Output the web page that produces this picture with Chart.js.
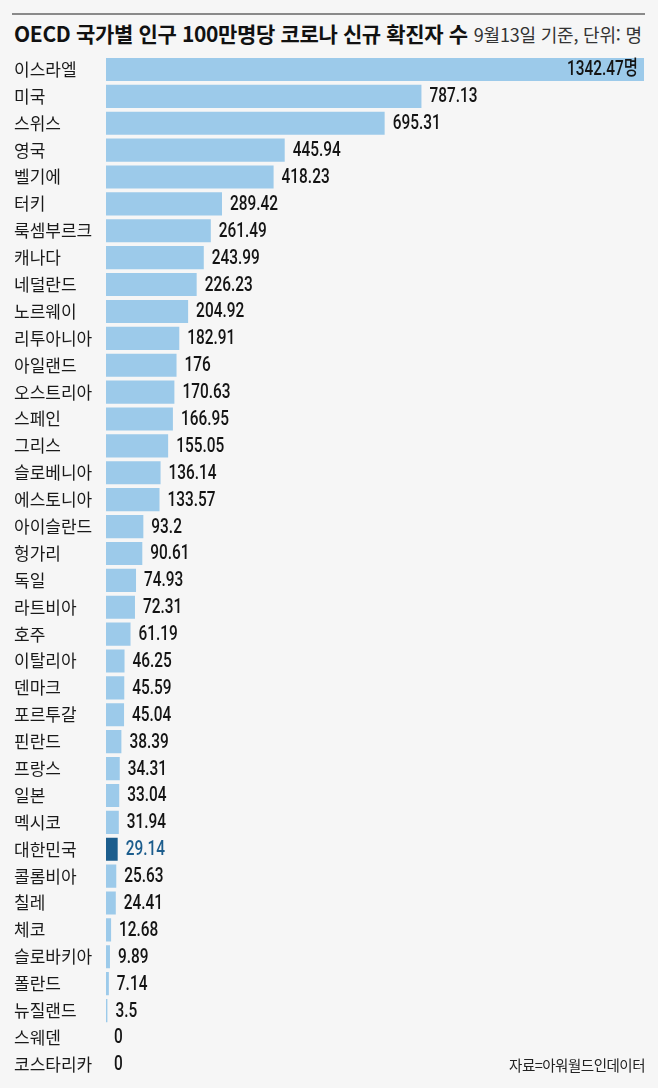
<!DOCTYPE html>
<html lang="ko">
<head>
<meta charset="utf-8">
<script src="https://cdn.jsdelivr.net/npm/chart.js@4/dist/chart.umd.min.js"></script>
<style>
  html, body { margin: 0; padding: 0; background: #f6f6f6; }
  #wrap { position: relative; width: 658px; height: 1088px; overflow: hidden; background: #f6f6f6; }
  #topline { position: absolute; left: 12px; top: 13px; width: 633px; height: 2px; background: #8a8a8a; }
  #title { position: absolute; left: 14px; top: 18px; white-space: nowrap; font-family: "Noto Sans CJK KR", sans-serif; color: #111; line-height: 30px; }
  #title .main { font-size: 21px; font-weight: 700; letter-spacing: -0.35px; }
  #title .sub { font-size: 18px; font-weight: 400; color: #333; letter-spacing: -0.2px; margin-left: 6px; }
  #source { position: absolute; right: 13px; top: 1054px; font-family: "Noto Sans CJK KR", sans-serif; font-size: 14.5px; color: #222; letter-spacing: -0.5px; }
  canvas { position: absolute; left: 0; top: 0; }
</style>
</head>
<body>
<div id="wrap">
  <div id="topline"></div>
  <div id="title"><span class="main">OECD 국가별 인구 100만명당 코로나 신규 확진자 수</span><span class="sub">9월13일 기준, 단위: 명</span></div>
  <canvas id="c" width="658" height="1088"></canvas>
  <div id="source">자료=아워월드인데이터</div>
</div>
<script>
const countries = ["이스라엘","미국","스위스","영국","벨기에","터키","룩셈부르크","캐나다","네덜란드","노르웨이","리투아니아","아일랜드","오스트리아","스페인","그리스","슬로베니아","에스토니아","아이슬란드","헝가리","독일","라트비아","호주","이탈리아","덴마크","포르투갈","핀란드","프랑스","일본","멕시코","대한민국","콜롬비아","칠레","체코","슬로바키아","폴란드","뉴질랜드","스웨덴","코스타리카"];
const cases = [1342.47,787.13,695.31,445.94,418.23,289.42,261.49,243.99,226.23,204.92,182.91,176,170.63,166.95,155.05,136.14,133.57,93.2,90.61,74.93,72.31,61.19,46.25,45.59,45.04,38.39,34.31,33.04,31.94,29.14,25.63,24.41,12.68,9.89,7.14,3.5,0,0];
const highlight = "대한민국";
const unit = "명";

const barColor = "#9ccaea";
const hiColor = "#1c5d8d";

const valueLabels = {
  id: "valueLabels",
  afterDatasetsDraw(chart) {
    const ctx = chart.ctx;
    const meta = chart.getDatasetMeta(0);
    const ds = chart.data.datasets[0];
    meta.data.forEach((bar, i) => {
      const v = ds.data[i];
      const label = chart.data.labels[i];
      const first = i === 0;
      const txt = first ? String(v) + unit : String(v);
      ctx.save();
      ctx.font = '500 20px Roboto, "Noto Sans CJK KR", sans-serif';
      ctx.textBaseline = "middle";
      ctx.fillStyle = label === highlight ? hiColor : "#141414";
      let x;
      if (first) {
        ctx.textAlign = "right";
        x = bar.x - 6;
      } else {
        ctx.textAlign = "left";
        x = bar.x + 8;
      }
      ctx.translate(x, bar.y + 1);
      ctx.scale(0.77, 1);
      ctx.fillText(txt, 0, 0);
      ctx.restore();
    });
  }
};

new Chart(document.getElementById("c"), {
  type: "bar",
  data: {
    labels: countries,
    datasets: [{
      data: cases,
      backgroundColor: countries.map(c => c === highlight ? hiColor : barColor),
      borderWidth: 0,
      barPercentage: 0.86,
      categoryPercentage: 1
    }]
  },
  options: {
    indexAxis: "y",
    responsive: false,
    animation: false,
    layout: { padding: { left: 14, right: 14, top: 56, bottom: 10 } },
    plugins: { legend: { display: false }, tooltip: { enabled: false }, title: { display: false } },
    scales: {
      x: { display: false, min: 0, max: Math.max(...cases) },
      y: {
        grid: { display: false, drawTicks: false },
        border: { display: false },
        ticks: {
          crossAlign: "far",
          padding: 0,
          color: "#1a1a1a",
          font: { family: '"Noto Sans CJK KR", sans-serif', size: 17, weight: 400 }
        },
        afterFit(scale) { scale.width = 92; }
      }
    }
  },
  plugins: [valueLabels]
});
</script>
</body>
</html>
